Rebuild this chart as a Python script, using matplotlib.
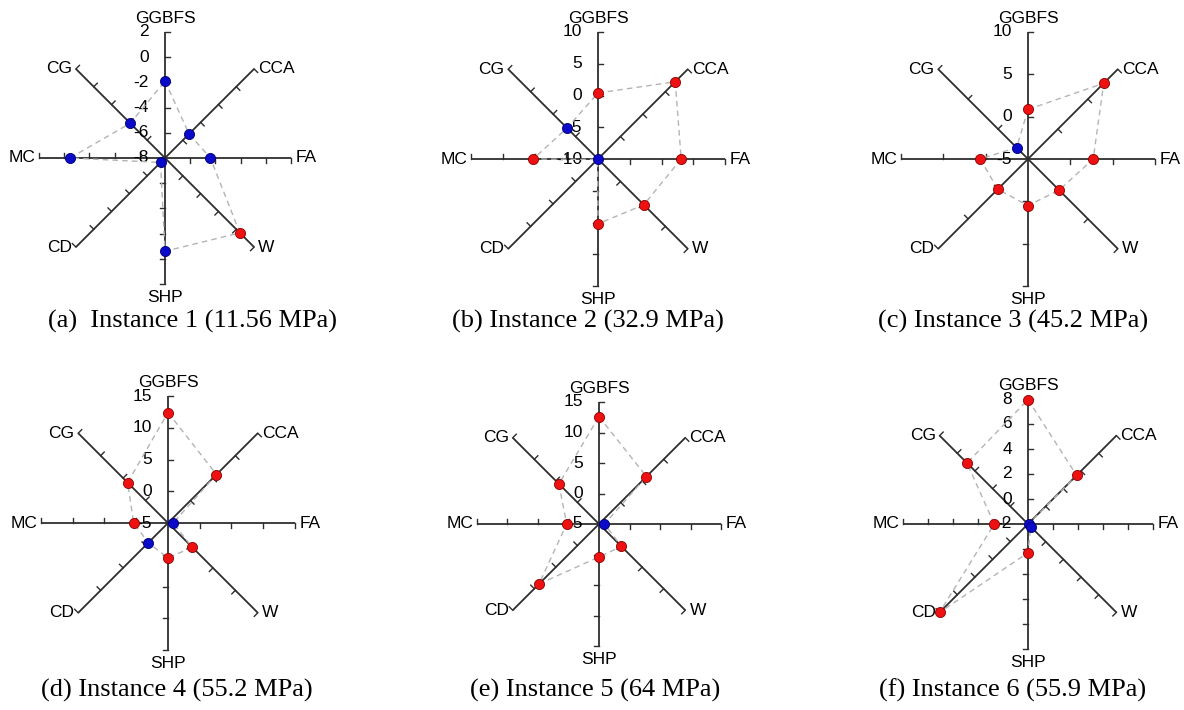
# radar-style SHAP plots for six concrete mix instances

import numpy as np
import matplotlib.pyplot as plt

features = ["GGBFS", "CCA", "FA", "W", "SHP", "CD", "MC", "CG"]
angles_deg = [90, 45, 0, -45, -90, -135, 180, 135]

captions = [
    "(a)  Instance 1 (11.56 MPa)",
    "(b) Instance 2 (32.9 MPa)",
    "(c) Instance 3 (45.2 MPa)",
    "(d) Instance 4 (55.2 MPa)",
    "(e) Instance 5 (64 MPa)",
    "(f) Instance 6 (55.9 MPa)",
]

scales = [
    [-8, -6, -4, -2, 0, 2],
    [-10, -5, 0, 5, 10],
    [-5, 0, 5, 10],
    [-5, 0, 5, 10, 15],
    [-5, 0, 5, 10, 15],
    [-2, 0, 2, 4, 6, 8],
]

values_a = [-1.9, -5.3, -4.4, 0.4, -0.6, -7.5, -0.45, -4.1]
values_b = [0.4, 7.2, 3.1, 0.2, 0.2, -9.9, 0.2, -3.1]
values_c = [0.85, 7.65, 2.7, 0.2, 0.5, 0.05, 0.65, -3.1]
values_d = [12.4, 5.8, -4.2, 0.4, 0.5, -0.6, 0.4, 4.0]
values_e = [12.6, 6.0, -4.1, 0.2, 0.4, 8.9, 0.3, 4.3]
values_f = [7.95, 3.5, -1.95, -1.7, 0.3, 8.0, 0.7, 4.9]
all_values = [values_a, values_b, values_c, values_d, values_e, values_f]

# layout in pixels (figure 1184 x 710)
W, H = 1184, 710
centers = [(165, 158), (598, 159), (1028, 159),
           (168, 523), (599, 524), (1028, 524)]
radii = [126, 127, 127, 127, 122, 125]
caption_pos = [(192, 321), (588, 321), (1013, 321),
               (177, 690), (595, 690), (1013, 690)]

AXIS_COLOR = "#2e2e2e"
RED = "#ee1111"
BLUE = "#0a0ac8"
LABEL_SIZE = 12.5

plt.rcParams["font.family"] = ["Liberation Sans", "DejaVu Sans"]

fig = plt.figure(figsize=(W / 100, H / 100), dpi=100)
fig.patch.set_facecolor("white")

half = 160
for k in range(6):
    cx, cy = centers[k]
    R = radii[k]
    ax = fig.add_axes([(cx - half) / W, 1 - (cy + half) / H,
                       2 * half / W, 2 * half / H])
    lim = half / R
    ax.set_xlim(-lim, lim)
    ax.set_ylim(-lim, lim)
    ax.set_aspect("equal")
    ax.axis("off")

    scale = scales[k]
    vmin, vmax = scale[0], scale[-1]
    nint = len(scale) - 1
    tick_len = 5 / R

    # axes with ticks on the clockwise side
    for name, ang in zip(features, angles_deg):
        t = np.deg2rad(ang)
        dx, dy = np.cos(t), np.sin(t)
        px, py = dy, -dx
        ax.plot([0, dx], [0, dy], color=AXIS_COLOR, lw=1.3,
                solid_capstyle="butt", zorder=2)
        for i in range(1, nint + 1):
            r = i / nint
            ax.plot([r * dx, r * dx + tick_len * px],
                    [r * dy, r * dy + tick_len * py],
                    color=AXIS_COLOR, lw=1.0, zorder=2)

        off = 6 / R
        if name == "GGBFS":
            ax.text(0, 1 + off, name, ha="center", va="bottom",
                    fontsize=LABEL_SIZE)
        elif name == "SHP":
            ax.text(0, -1 - off, name, ha="center", va="top",
                    fontsize=LABEL_SIZE)
        elif dx > 0.1:
            ax.text(dx + off * 0.7, dy, name, ha="left", va="center",
                    fontsize=LABEL_SIZE)
        else:
            ax.text(dx - off * 0.6, dy, name, ha="right", va="center",
                    fontsize=LABEL_SIZE)

    # tick labels along the GGBFS axis
    for i, lab in enumerate(scale):
        ax.text(-16 / R, i / nint, str(lab), ha="right", va="center",
                fontsize=LABEL_SIZE, zorder=3)

    # data points
    vals = np.array(all_values[k], dtype=float)
    frac = (vals - vmin) / (vmax - vmin)
    th = np.deg2rad(angles_deg)
    xs = frac * np.cos(th)
    ys = frac * np.sin(th)
    ax.plot(np.append(xs, xs[0]), np.append(ys, ys[0]), ls=(0, (4, 3)),
            color="#b4b4b4", lw=1.0, zorder=3)
    for x, y, v in zip(xs, ys, vals):
        face = RED if v > 0 else BLUE
        edge = "#8a0000" if v > 0 else "#000070"
        ax.plot(x, y, "o", ms=7.3, mfc=face, mec=edge, mew=0.6, zorder=4)

    tx, ty = caption_pos[k]
    fig.text(tx / W, 1 - ty / H, captions[k], ha="center", va="center",
             fontsize=19, family=["Liberation Serif", "DejaVu Serif"])

fig.savefig("out.png", dpi=100, facecolor="white")
